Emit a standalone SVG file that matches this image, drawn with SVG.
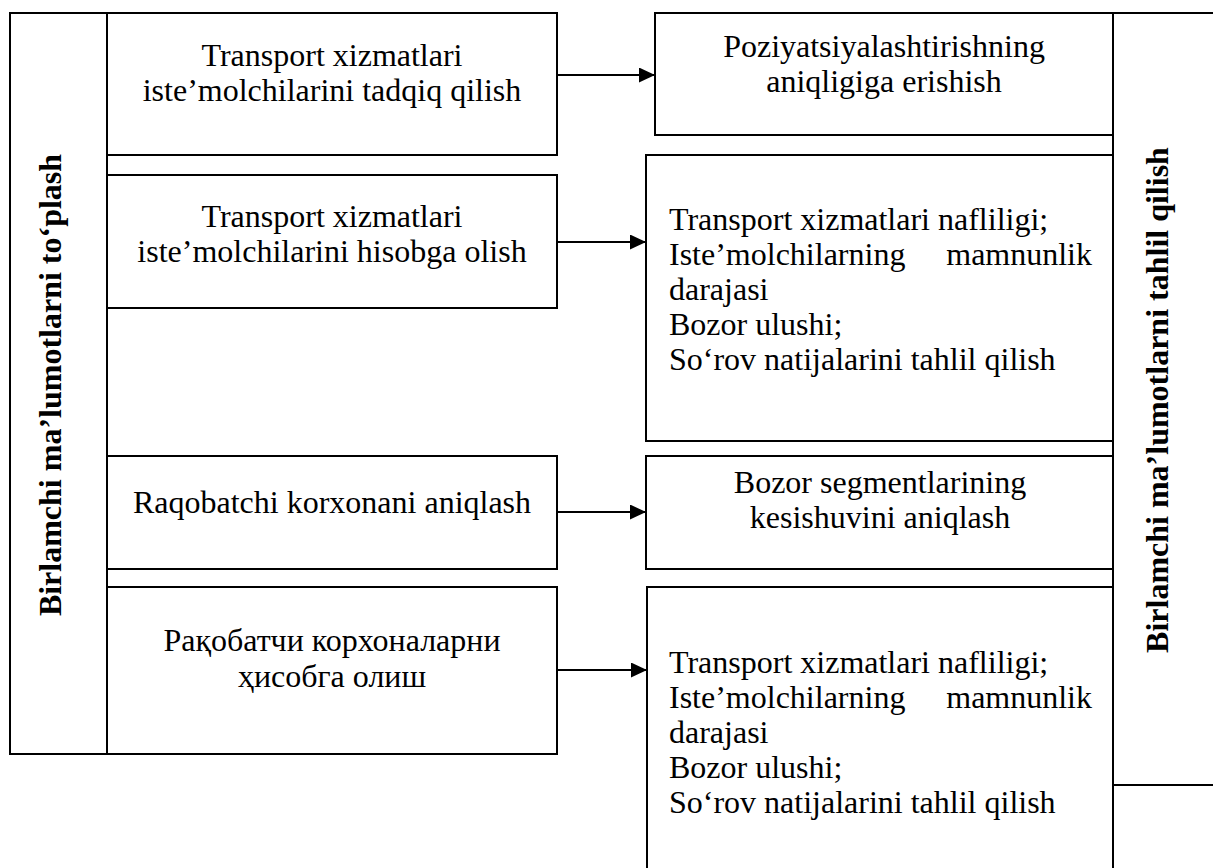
<svg xmlns="http://www.w3.org/2000/svg" width="1213" height="868" viewBox="0 0 1213 868">
  <style>
    .box { fill: #ffffff; stroke: #000000; stroke-width: 2; }
    .t { font-family: "Liberation Serif", "Times New Roman", "DejaVu Serif", serif; font-size: 32px; fill: #000000; }
    .c { text-anchor: middle; }
    .e { text-anchor: end; }
    .v { font-family: "Liberation Serif", "Times New Roman", "DejaVu Serif", serif; font-size: 32px; font-weight: bold; fill: #000000; text-anchor: middle; }
    .link { stroke: #000000; stroke-width: 2; fill: none; }
  </style>
  <defs>
    <marker id="arrow" markerUnits="userSpaceOnUse" markerWidth="16" markerHeight="15" refX="16" refY="7.5" orient="auto">
      <path d="M0,0 L16,7.5 L0,15 Z" fill="#000000"/>
    </marker>
  </defs>

  <rect width="1213" height="868" fill="#ffffff"/>

  <!-- left frame: data collection -->
  <g id="collect">
    <rect class="box" x="10" y="13" width="97" height="741"/>
    <text class="v" transform="translate(61,385) rotate(-90)">Birlamchi ma’lumotlarni to‘plash</text>
  </g>

  <!-- right frame: data analysis -->
  <g id="analyse">
    <rect class="box" x="1113" y="13" width="110" height="772"/>
    <text class="v" transform="translate(1168,400) rotate(-90)">Birlamchi ma’lumotlarni tahlil qilish</text>
  </g>

  <!-- left column -->
  <g id="consumer-research">
    <rect class="box" x="107" y="13" width="450" height="142"/>
    <text class="t c" x="332" y="66">Transport xizmatlari</text>
    <text class="t c" x="332" y="101">iste’molchilarini tadqiq qilish</text>
  </g>

  <g id="consumer-accounting">
    <rect class="box" x="107" y="175" width="450" height="133"/>
    <text class="t c" x="332" y="227">Transport xizmatlari</text>
    <text class="t c" x="332" y="262">iste’molchilarini hisobga olish</text>
  </g>

  <g id="competitor-identify">
    <rect class="box" x="107" y="456" width="450" height="113"/>
    <text class="t c" x="332" y="513">Raqobatchi korxonani aniqlash</text>
  </g>

  <g id="competitor-accounting">
    <rect class="box" x="107" y="587" width="450" height="167"/>
    <text class="t c" x="332" y="651">Рақобатчи корхоналарни</text>
    <text class="t c" x="332" y="687">ҳисобга олиш</text>
  </g>

  <!-- right column -->
  <g id="positioning">
    <rect class="box" x="655" y="13" width="458" height="122"/>
    <text class="t c" x="884" y="57">Poziyatsiyalashtirishning</text>
    <text class="t c" x="884" y="92">aniqligiga erishish</text>
  </g>

  <g id="indicators-1">
    <rect class="box" x="646" y="155" width="467" height="286"/>
    <text class="t" x="669" y="230">Transport xizmatlari nafliligi;</text>
    <text class="t" x="669" y="265">Iste’molchilarning</text>
    <text class="t e" x="1092" y="265">mamnunlik</text>
    <text class="t" x="669" y="300">darajasi</text>
    <text class="t" x="669" y="335">Bozor ulushi;</text>
    <text class="t" x="669" y="370">So‘rov natijalarini tahlil qilish</text>
  </g>

  <g id="segments">
    <rect class="box" x="646" y="456" width="467" height="113"/>
    <text class="t c" x="880" y="493">Bozor segmentlarining</text>
    <text class="t c" x="880" y="528">kesishuvini aniqlash</text>
  </g>

  <g id="indicators-2">
    <rect class="box" x="647" y="587" width="466" height="300"/>
    <text class="t" x="669" y="673">Transport xizmatlari nafliligi;</text>
    <text class="t" x="669" y="708">Iste’molchilarning</text>
    <text class="t e" x="1092" y="708">mamnunlik</text>
    <text class="t" x="669" y="743">darajasi</text>
    <text class="t" x="669" y="778">Bozor ulushi;</text>
    <text class="t" x="669" y="813">So‘rov natijalarini tahlil qilish</text>
  </g>

  <!-- connectors -->
  <g id="connectors">
    <line class="link" x1="557" y1="75" x2="655" y2="75" marker-end="url(#arrow)"/>
    <line class="link" x1="557" y1="242" x2="646" y2="242" marker-end="url(#arrow)"/>
    <line class="link" x1="557" y1="512" x2="646" y2="512" marker-end="url(#arrow)"/>
    <line class="link" x1="557" y1="670" x2="647" y2="670" marker-end="url(#arrow)"/>
  </g>
</svg>
